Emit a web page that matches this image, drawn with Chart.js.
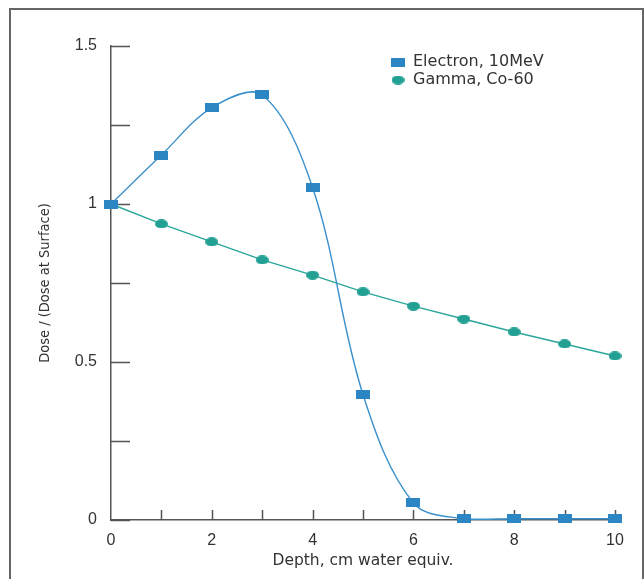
<!DOCTYPE html>
<html lang="en">
<head>
    <meta charset="UTF-8">
    <title>Depth dose</title>
    <style>
        body { margin: 0; background: #fff; }
        .frame {
            position: absolute;
            left: 9px; top: 8px;
            width: 631px; height: 620px;
            border: 2px solid #666;
        }
        .wrap { position: absolute; left: 0; top: 0; width: 644px; height: 579px; }
    </style>
</head>
<body>
<div class="frame"></div>
<div class="wrap"><canvas id="doseChart" width="644" height="579"></canvas></div>

<script src="https://cdn.jsdelivr.net/npm/chart.js"></script>
<script>
    // depth in cm water equivalent
    const depths = [0, 1, 2, 3, 4, 5, 6, 7, 8, 9, 10];
    const electronDose = [1.0, 1.155, 1.305, 1.345, 1.052, 0.397, 0.054, 0.004, 0.004, 0.004, 0.004];
    const gammaDose = [1.0, 0.937, 0.880, 0.823, 0.775, 0.722, 0.677, 0.636, 0.595, 0.557, 0.519];
    const xTickLabels = ['0', '', '2', '', '4', '', '6', '', '8', '', '10'];
    const yTickLabels = ['0', '', '0.5', '', '1', '', '1.5'];
    const yTickValues = [0, 0.25, 0.5, 0.75, 1, 1.25, 1.5];

    const blue = '#2b86c3';
    const teal = '#22a094';
    const wideFont = '"DejaVu Sans", Verdana, sans-serif';

    // marker images
    function makeMarker(w, h, color, round) {
        const c = document.createElement('canvas');
        c.width = w; c.height = h;
        const g = c.getContext('2d');
        g.fillStyle = color;
        if (round) {
            g.beginPath();
            g.ellipse(w / 2, h / 2, w / 2, h / 2, 0, 0, Math.PI * 2);
            g.fill();
        } else {
            g.fillRect(0, 0, w, h);
        }
        return c;
    }
    const rectMark = makeMarker(14, 9, blue, false);
    const dotMark = makeMarker(13, 9, teal, true);

    // inward tick marks + legend
    const axisExtras = {
        id: 'axisExtras',
        beforeDatasetsDraw(chart) {
            const ctx = chart.ctx;
            const xs = chart.scales.x, ys = chart.scales.y;
            ctx.save();
            ctx.strokeStyle = '#555';
            ctx.lineWidth = 1.5;
            ctx.beginPath();
            yTickValues.forEach(v => {
                const py = Math.round(ys.getPixelForValue(v)) + 0.5;
                ctx.moveTo(xs.left, py);
                ctx.lineTo(xs.left + 19, py);
            });
            depths.forEach(d => {
                if (d === 0) return;
                const px = Math.round(xs.getPixelForValue(d)) + 0.5;
                ctx.moveTo(px, ys.bottom);
                ctx.lineTo(px, ys.bottom - 10);
            });
            ctx.stroke();
            ctx.restore();
        },
        afterDraw(chart) {
            const ctx = chart.ctx;
            ctx.save();
            ctx.font = '16px ' + wideFont;
            ctx.fillStyle = '#333';
            ctx.textBaseline = 'middle';
            chart.data.datasets.forEach((ds, i) => {
                const y = 62 + i * 18;
                const img = ds.pointStyle;
                ctx.drawImage(img, 398 - img.width / 2, y - img.height / 2);
                ctx.fillText(ds.label, 413, y);
            });
            ctx.restore();
        }
    };

    const ctx = document.getElementById('doseChart').getContext('2d');
    new Chart(ctx, {
        type: 'line',
        data: {
            labels: depths,
            datasets: [{
                label: 'Electron, 10MeV',
                data: depths.map((d, i) => ({ x: d, y: electronDose[i] })),
                borderColor: '#3a90cc',
                borderWidth: 1.4,
                pointStyle: rectMark,
                tension: 0.35,
                clip: false
            }, {
                label: 'Gamma, Co-60',
                data: depths.map((d, i) => ({ x: d, y: gammaDose[i] })),
                borderColor: '#2aa79a',
                borderWidth: 1.4,
                pointStyle: dotMark,
                tension: 0,
                clip: false
            }]
        },
        options: {
            responsive: false,
            animation: false,
            layout: { padding: { top: 46, right: 29, left: 0, bottom: 0 } },
            plugins: {
                legend: { display: false },
                tooltip: { enabled: false }
            },
            scales: {
                x: {
                    type: 'linear',
                    min: 0, max: 10,
                    afterFit(s) { s.height = 59; },
                    afterBuildTicks(s) { s.ticks = depths.map(v => ({ value: v })); },
                    grid: { display: false, drawTicks: false },
                    border: { display: true, color: '#555', width: 1.5 },
                    ticks: {
                        padding: 11,
                        color: '#333',
                        font: { family: '"Liberation Sans", Arial, sans-serif', size: 16 },
                        callback: (v, i) => xTickLabels[i]
                    },
                    title: {
                        display: true,
                        text: 'Depth, cm water equiv.',
                        color: '#333',
                        padding: { top: 0, bottom: 9 },
                        font: { family: wideFont, size: 15.5 }
                    }
                },
                y: {
                    min: 0, max: 1.5,
                    afterFit(s) { s.width = 111; },
                    afterBuildTicks(s) { s.ticks = yTickValues.map(v => ({ value: v })); },
                    grid: { display: false, drawTicks: false },
                    border: { display: true, color: '#555', width: 1.5 },
                    ticks: {
                        padding: 14,
                        color: '#333',
                        font: { family: '"Liberation Sans", Arial, sans-serif', size: 16 },
                        callback: (v, i) => yTickLabels[i]
                    },
                    title: {
                        display: true,
                        text: 'Dose / (Dose at Surface)',
                        color: '#333',
                        padding: { top: 37, bottom: 0 },
                        font: { family: '"DejaVu Sans Condensed", sans-serif', size: 14.5 }
                    }
                }
            }
        },
        plugins: [axisExtras]
    });
</script>
</body>
</html>
